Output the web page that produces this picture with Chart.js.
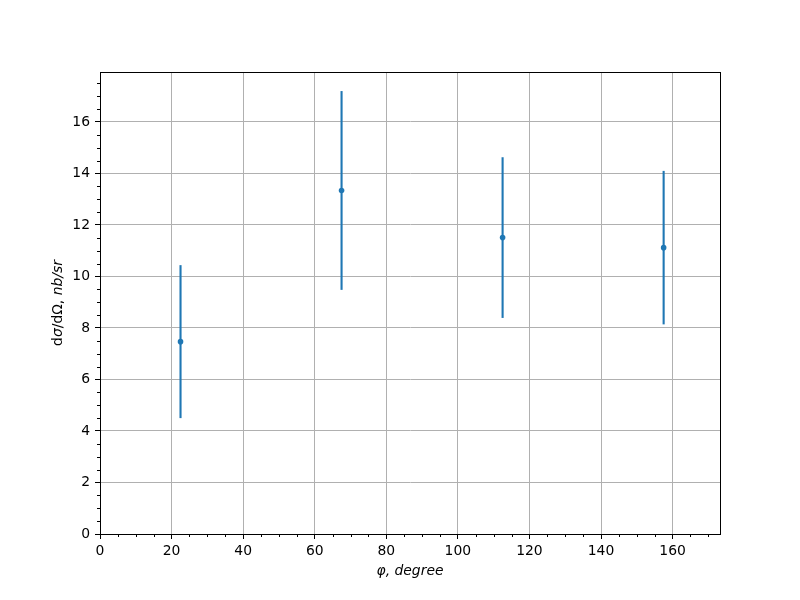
<!DOCTYPE html>
<html lang="en">
<head>
<meta charset="UTF-8">
<title>dσ/dΩ vs φ</title>
<script src="https://cdn.jsdelivr.net/npm/chart.js"></script>
<style>
  body { margin: 0; background: white; }
  canvas { display: block; }
</style>
</head>
<body>
<canvas id="chart" width="800" height="600"></canvas>
<script>
// data
const phiValues = [22.5, 67.5, 112.5, 157.5];
const sigmaValues = [7.47, 13.34, 11.51, 11.12];
const sigmaErrors = [2.97, 3.86, 3.12, 2.98];

const xTicks = [0, 20, 40, 60, 80, 100, 120, 140, 160];
const yTicks = [0, 2, 4, 6, 8, 10, 12, 14, 16];
const xMinorStep = 5;
const yMinorStep = 0.5;
const xLimits = [0, 173.25];
const yLimits = [0, 17.94];

const blue = '#1f77b4';
const tickFont = { family: 'DejaVu Sans', size: 13.9 };

const points = phiValues.map((x, i) => ({ x: x, y: sigmaValues[i] }));

// vertical error bars, drawn through the chart scales
const errorBars = {
    id: 'errorBars',
    beforeDatasetsDraw(chart) {
        const ctx = chart.ctx;
        const xs = chart.scales.x, ys = chart.scales.y;
        ctx.save();
        ctx.strokeStyle = blue;
        ctx.lineWidth = 2.1;
        for (let i = 0; i < phiValues.length; i++) {
            const px = xs.getPixelForValue(phiValues[i]);
            ctx.beginPath();
            ctx.moveTo(px, ys.getPixelForValue(sigmaValues[i] - sigmaErrors[i]));
            ctx.lineTo(px, ys.getPixelForValue(sigmaValues[i] + sigmaErrors[i]));
            ctx.stroke();
        }
        ctx.restore();
    }
};

// box, minor ticks and axis titles
const frame = {
    id: 'frame',
    afterDraw(chart) {
        const ctx = chart.ctx;
        const a = chart.chartArea;
        const xs = chart.scales.x, ys = chart.scales.y;
        ctx.save();
        ctx.strokeStyle = '#000';
        ctx.lineWidth = 1;
        ctx.strokeRect(Math.round(a.left) + 0.5, Math.round(a.top) + 0.5,
            Math.round(a.right - a.left), Math.round(a.bottom - a.top));

        // minor ticks
        ctx.beginPath();
        for (let v = xLimits[0]; v <= xLimits[1]; v += xMinorStep) {
            if (xTicks.includes(v)) continue;
            const px = Math.round(xs.getPixelForValue(v)) + 0.5;
            ctx.moveTo(px, a.bottom);
            ctx.lineTo(px, a.bottom + 3);
        }
        for (let v = yLimits[0]; v <= yLimits[1]; v += yMinorStep) {
            if (yTicks.includes(v)) continue;
            const py = Math.round(ys.getPixelForValue(v)) + 0.5;
            ctx.moveTo(a.left, py);
            ctx.lineTo(a.left - 3, py);
        }
        ctx.stroke();

        // axis titles
        ctx.fillStyle = '#000';
        ctx.textBaseline = 'alphabetic';
        ctx.textAlign = 'center';
        ctx.font = 'italic 13.9px "DejaVu Sans"';
        ctx.fillText('φ, degree', (a.left + a.right) / 2, 575);

        const parts = [
            ['d', ''], ['σ', 'italic '], ['/d', ''], ['Ω, ', ''], ['nb/sr', 'italic ']
        ];
        let total = 0;
        parts.forEach(p => {
            ctx.font = p[1] + '13.9px "DejaVu Sans"';
            total += ctx.measureText(p[0]).width;
        });
        ctx.translate(62, (a.top + a.bottom) / 2);
        ctx.rotate(-Math.PI / 2);
        ctx.textAlign = 'left';
        let cx = -total / 2;
        parts.forEach(p => {
            ctx.font = p[1] + '13.9px "DejaVu Sans"';
            ctx.fillText(p[0], cx, 0);
            cx += ctx.measureText(p[0]).width;
        });
        ctx.restore();
    }
};

new Chart(document.getElementById('chart'), {
    type: 'scatter',
    data: {
        datasets: [{
            data: points,
            backgroundColor: blue,
            borderWidth: 0,
            pointRadius: 2.8
        }]
    },
    options: {
        responsive: false,
        animation: false,
        layout: { padding: { top: 72, right: 80, left: 0, bottom: 0 } },
        plugins: { legend: { display: false }, tooltip: { enabled: false } },
        scales: {
            x: {
                type: 'linear',
                min: xLimits[0],
                max: xLimits[1],
                afterBuildTicks: s => { s.ticks = xTicks.map(v => ({ value: v })); },
                afterFit: s => { s.height = 66; },
                ticks: { font: tickFont, color: '#000', padding: 4, autoSkip: false, maxRotation: 0 },
                grid: { color: '#b0b0b0', lineWidth: 1, tickColor: '#000', tickLength: 5, tickWidth: 1 },
                border: { display: true, color: '#000', width: 1 }
            },
            y: {
                type: 'linear',
                min: yLimits[0],
                max: yLimits[1],
                afterBuildTicks: s => { s.ticks = yTicks.map(v => ({ value: v })); },
                afterFit: s => { s.width = 100; },
                ticks: { font: tickFont, color: '#000', padding: 5, autoSkip: false },
                grid: { color: '#b0b0b0', lineWidth: 1, tickColor: '#000', tickLength: 5, tickWidth: 1 },
                border: { display: true, color: '#000', width: 1 }
            }
        }
    },
    plugins: [errorBars, frame]
});
</script>
</body>
</html>
